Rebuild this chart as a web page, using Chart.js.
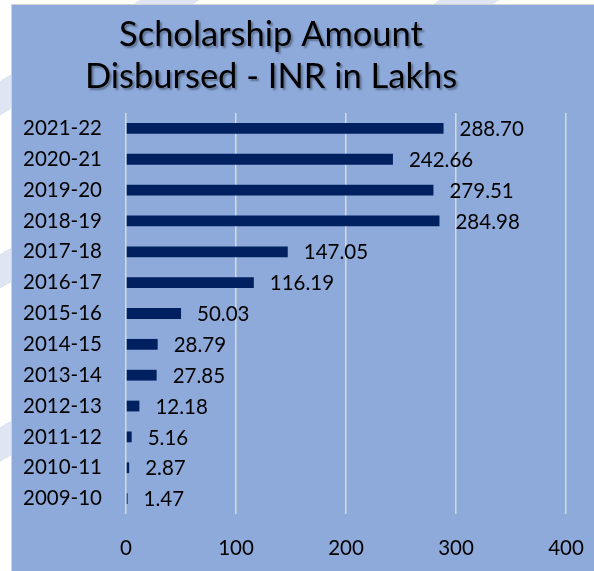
<!DOCTYPE html>
<html>
<head>
<meta charset="utf-8">
<script src="https://cdn.jsdelivr.net/npm/chart.js@4"></script>
<style>
  html, body { margin: 0; padding: 0; }
  body {
    width: 594px; height: 571px; overflow: hidden; position: relative;
    background: repeating-linear-gradient(150deg, #ffffff 0 70px, #dfe5f2 70px 100px, #ffffff 100px 150px);
  }
  #box {
    position: absolute; left: 11px; top: 4px; width: 583px; height: 567px;
    background: #8eaadb; border-top: 1px solid #d4d4d4; border-left: 1px solid #d4d4d4;
    box-sizing: border-box;
  }
  canvas { display: block; }
</style>
</head>
<body>
<div id="box"><canvas id="chart" width="582" height="566"></canvas></div>
<script>
const categories = ["2021-22", "2020-21", "2019-20", "2018-19", "2017-18", "2016-17", "2015-16",
  "2014-15", "2013-14", "2012-13", "2011-12", "2010-11", "2009-10"];
const amounts = [288.70, 242.66, 279.51, 284.98, 147.05, 116.19, 50.03, 28.79, 27.85, 12.18, 5.16, 2.87, 1.47];
const xTicks = [0, 100, 200, 300, 400];
const titleLines = ["Scholarship Amount", "Disbursed - INR in Lakhs"];

const FONT = "Lato";

// size a font so the given text is as wide as in the picture
function fitSize(text, target) {
  const c = document.createElement("canvas").getContext("2d");
  c.font = "100px " + FONT;
  return 100 * target / c.measureText(text).width;
}
const labelSize = fitSize("2021-22", 79);
const titleSize = fitSize(titleLines[0], 304);

const titleShadow = {
  id: "titleShadow",
  afterDraw(chart) {
    const ctx = chart.ctx;
    ctx.save();
    ctx.font = titleSize + "px " + FONT;
    ctx.textAlign = "center";
    ctx.textBaseline = "alphabetic";
    ctx.fillStyle = "#000";
    ctx.shadowColor = "rgba(0,0,0,0.35)";
    ctx.shadowOffsetX = 2;
    ctx.shadowOffsetY = 2;
    ctx.shadowBlur = 2;
    ctx.fillText(titleLines[0], 259, 41);
    ctx.fillText(titleLines[1], 259, 83);
    ctx.restore();
  }
};

const valueLabels = {
  id: "valueLabels",
  afterDatasetsDraw(chart) {
    const ctx = chart.ctx;
    const meta = chart.getDatasetMeta(0);
    ctx.save();
    ctx.font = labelSize + "px " + FONT;
    ctx.fillStyle = "#000";
    ctx.textAlign = "left";
    ctx.textBaseline = "middle";
    meta.data.forEach((bar, i) => {
      ctx.fillText(amounts[i].toFixed(2), bar.x + 16, bar.y + 1);
    });
    ctx.restore();
  }
};

new Chart(document.getElementById("chart").getContext("2d"), {
  type: "bar",
  data: {
    labels: categories,
    datasets: [{
      label: "Amount",
      data: amounts,
      backgroundColor: "#002060",
      borderWidth: 0,
      barPercentage: 1,
      categoryPercentage: 0.35
    }]
  },
  options: {
    indexAxis: "y",
    responsive: false,
    animation: false,
    layout: { padding: { top: 108, right: 28, left: 0, bottom: 0 } },
    plugins: {
      legend: { display: false },
      title: { display: false },
      tooltip: { enabled: false }
    },
    scales: {
      x: {
        min: 0,
        max: 400,
        afterBuildTicks: (scale) => { scale.ticks = xTicks.map(v => ({ value: v })); },
        afterFit: (scale) => { scale.height = 57; },
        grid: { color: "#d9d9d9", lineWidth: 1.5, drawTicks: true, tickLength: 22, tickColor: "rgba(0,0,0,0)" },
        border: { display: false },
        ticks: {
          color: "#000",
          padding: 0,
          font: { family: FONT, size: labelSize }
        }
      },
      y: {
        afterFit: (scale) => { scale.width = 114; },
        grid: { display: false },
        border: { display: false },
        ticks: {
          color: "#000",
          padding: 16,
          font: { family: FONT, size: labelSize }
        }
      }
    }
  },
  plugins: [valueLabels, titleShadow]
});
</script>
</body>
</html>
